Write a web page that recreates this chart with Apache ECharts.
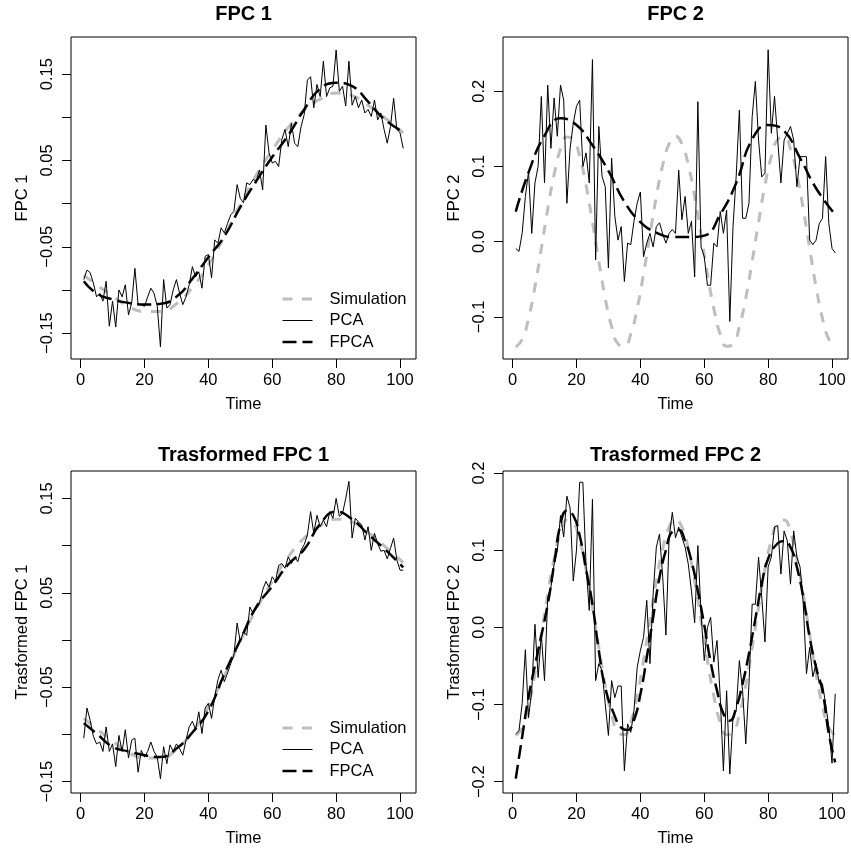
<!DOCTYPE html>
<html><head><meta charset="utf-8">
<script src="https://cdn.jsdelivr.net/npm/echarts@6/dist/echarts.min.js"></script>
<style>html,body{margin:0;padding:0;background:#fff}#c{width:851px;height:852px}</style>
</head><body><div id="c"></div>
<script>
// ---------------- data ----------------
const time = Array.from({length: 101}, (_, i) => i + 1);

const titles = ['FPC 1', 'FPC 2', 'Trasformed FPC 1', 'Trasformed FPC 2'];
const yNames = ['FPC 1', 'FPC 2', 'Trasformed FPC 1', 'Trasformed FPC 2'];
const xName = 'Time';
const xTicks = [0, 20, 40, 60, 80, 100];
const yTicks1 = [-0.15, -0.10, -0.05, 0.00, 0.05, 0.10, 0.15];
const yLabels1 = [-0.15, -0.05, 0.05, 0.15];
const yTicks2 = [-0.1, 0.0, 0.1, 0.2];
const yTicks3 = [-0.15, -0.10, -0.05, 0.00, 0.05, 0.10, 0.15];
const yLabels3 = [-0.15, -0.05, 0.05, 0.15];
const yTicks4 = [-0.2, -0.1, 0.0, 0.1, 0.2];
const legendNames = ['Simulation', 'PCA', 'FPCA'];

// Simulation curves (same for raw and transformed panels)
const simT1 = [1,5,10,15,20,25,30,35,40,45,50,55,60,65,70,75,80,85,90,95,101];
const sim1 = [-0.083,-0.094,-0.107,-0.119,-0.125,-0.125,-0.116,-0.097,-0.071,-0.038,-0.001,0.033,0.062,0.088,0.108,0.121,0.128,0.125,0.114,0.100,0.082];
const simT2 = [1,3,5,7,9,11,13,15,17,19,21,23,25,27,29,31,33,35,37,39,41,43,45,47,49,51,53,55,57,59,61,63,65,67,69,71,73,75,77,79,81,83,85,87,89,91,93,95,97,99,101];
const sim2 = [-0.140,-0.130,-0.102,-0.060,-0.009,0.043,0.089,0.123,0.139,0.136,0.113,0.075,0.026,-0.026,-0.075,-0.113,-0.136,-0.139,-0.123,-0.089,-0.043,0.009,0.060,0.102,0.130,0.140,0.130,0.102,0.060,0.009,-0.043,-0.089,-0.123,-0.139,-0.136,-0.113,-0.075,-0.026,0.026,0.075,0.113,0.136,0.139,0.123,0.089,0.043,-0.009,-0.060,-0.102,-0.130,-0.140];

// PCA (noisy) curves, one value per time point
const pca1 = [-0.088,-0.077,-0.080,-0.092,-0.108,-0.104,-0.113,-0.090,-0.142,-0.113,
  -0.143,-0.100,-0.108,-0.094,-0.129,-0.115,-0.075,-0.117,-0.117,-0.119,
  -0.108,-0.098,-0.104,-0.119,-0.166,-0.088,-0.121,-0.117,-0.100,-0.088,
  -0.104,-0.117,-0.108,-0.094,-0.073,-0.085,-0.079,-0.098,-0.061,-0.059,
  -0.086,-0.042,-0.046,-0.028,-0.034,-0.023,-0.013,-0.009,0.022,0.006,
  0.001,0.024,0.022,0.028,0.026,0.039,0.016,0.091,0.059,0.047,
  0.049,0.043,0.074,0.086,0.066,0.093,0.070,0.066,0.089,0.103,
  0.143,0.147,0.111,0.138,0.124,0.165,0.124,0.134,0.136,0.178,
  0.130,0.136,0.113,0.165,0.114,0.124,0.111,0.120,0.105,0.109,
  0.101,0.120,0.097,0.105,0.086,0.070,0.089,0.122,0.086,0.082,0.064];
const pca2 = [-0.009,-0.013,0.011,0.060,0.093,0.011,0.078,0.100,0.193,0.078,
  0.208,0.124,0.191,0.140,0.208,0.188,0.051,0.124,0.157,0.180,
  0.188,0.100,0.118,0.078,0.242,-0.024,0.153,0.087,0.073,-0.035,
  0.111,0.034,0.002,0.020,-0.053,-0.002,-0.004,0.027,0.051,0.066,
  -0.020,-0.002,0.011,-0.007,0.020,0.025,0.010,-0.002,0.011,0.016,
  0.011,0.095,0.029,0.060,0.011,0.027,-0.047,0.186,-0.007,-0.020,
  -0.058,-0.058,-0.002,-0.007,0.040,0.011,0.042,-0.106,0.020,0.087,
  0.175,0.031,0.031,0.051,0.166,0.213,0.135,0.086,0.091,0.255,
  0.144,0.193,0.135,0.078,0.135,0.144,0.153,0.135,0.073,0.113,
  0.113,0.113,0.002,-0.004,0.002,0.024,0.031,0.113,0.024,-0.009,-0.015];
const pca3 = [-0.104,-0.072,-0.085,-0.102,-0.110,-0.108,-0.118,-0.092,-0.118,-0.110,
  -0.134,-0.101,-0.118,-0.095,-0.125,-0.106,-0.104,-0.140,-0.117,-0.124,
  -0.118,-0.108,-0.118,-0.124,-0.147,-0.113,-0.131,-0.111,-0.118,-0.110,
  -0.115,-0.122,-0.106,-0.092,-0.086,-0.095,-0.076,-0.099,-0.072,-0.067,
  -0.083,-0.060,-0.042,-0.032,-0.044,-0.035,-0.025,-0.016,0.018,-0.002,
  0.009,0.005,0.035,0.028,0.033,0.039,0.053,0.062,0.056,0.067,
  0.062,0.079,0.081,0.076,0.088,0.081,0.088,0.083,0.095,0.101,
  0.111,0.136,0.113,0.132,0.120,0.127,0.120,0.136,0.129,0.150,
  0.131,0.134,0.150,0.168,0.108,0.129,0.125,0.122,0.106,0.120,
  0.095,0.113,0.102,0.094,0.095,0.086,0.097,0.108,0.085,0.074,0.074];
const pca4 = [-0.138,-0.134,-0.099,-0.029,-0.117,-0.082,0.004,-0.065,-0.009,-0.069,
  0.039,0.052,0.082,0.099,0.145,0.117,0.170,0.155,0.060,0.100,
  0.188,0.188,0.080,0.022,0.166,-0.069,-0.047,-0.056,-0.099,-0.140,
  -0.069,-0.091,-0.076,-0.076,-0.186,-0.125,-0.136,-0.108,-0.052,-0.030,
  -0.013,0.035,-0.047,0.043,0.104,0.121,0.065,-0.010,0.116,0.149,
  0.116,0.130,0.117,0.104,0.082,0.047,0.006,0.106,0.017,-0.043,
  0.000,0.013,-0.045,-0.017,-0.090,-0.186,-0.082,-0.190,-0.117,-0.108,
  -0.043,-0.082,-0.151,-0.073,0.030,0.030,0.091,0.039,-0.019,0.078,
  0.091,0.130,0.132,0.069,0.125,0.112,0.056,0.125,0.091,0.078,
  0.030,-0.060,-0.026,-0.064,-0.047,-0.073,-0.073,-0.099,-0.129,-0.176,-0.086];

// FPCA (smooth) curves
const fpcaT1 = [1,5,10,15,20,25,30,35,40,45,50,55,60,65,70,75,80,85,90,95,101];
const fpca1 = [-0.090,-0.104,-0.111,-0.115,-0.117,-0.116,-0.108,-0.087,-0.062,-0.038,-0.004,0.026,0.054,0.079,0.109,0.133,0.140,0.136,0.118,0.098,0.083];
const fpcaT2 = [1,5,10,15,20,25,30,35,40,45,50,55,60,65,70,75,80,85,90,95,101];
const fpca2 = [0.040,0.092,0.141,0.164,0.155,0.128,0.094,0.053,0.026,0.012,0.006,0.006,0.008,0.036,0.078,0.136,0.155,0.147,0.111,0.071,0.036];
const fpcaT3 = [1,5,10,15,20,25,30,35,40,45,50,55,60,65,70,75,80,85,90,95,101];
const fpca3 = [-0.088,-0.099,-0.113,-0.118,-0.122,-0.124,-0.115,-0.098,-0.075,-0.036,0.000,0.035,0.057,0.080,0.096,0.123,0.136,0.128,0.112,0.097,0.077];
const fpcaT4 = [1,3,5,8,11,13,15,17,19,21,23,25,27,29,32,34,36,38,40,42,44,46,48,50,52,54,56,58,60,62,64,66,68,70,72,74,76,78,80,83,85,87,89,91,93,95,97,99,101];
const fpca4 = [-0.196,-0.142,-0.090,-0.030,0.030,0.082,0.134,0.151,0.145,0.119,0.075,0.030,-0.030,-0.078,-0.115,-0.130,-0.133,-0.120,-0.087,-0.039,0.013,0.065,0.100,0.124,0.126,0.112,0.086,0.047,0.003,-0.045,-0.082,-0.112,-0.121,-0.104,-0.073,-0.034,0.011,0.056,0.089,0.109,0.112,0.104,0.078,0.039,-0.013,-0.052,-0.082,-0.138,-0.175];

// ---------------- layout / style ----------------
const FONT = '"Liberation Sans", Arial, Helvetica, sans-serif';
const boxes = [
  {left: 71, top: 37, titleY: 14}, {left: 503, top: 37, titleY: 14},
  {left: 71, top: 471, titleY: 455}, {left: 503, top: 471, titleY: 455}
];
const BW = 345, BH = 322;
const yRanges = [[-0.180, 0.193], [-0.156, 0.272], [-0.162, 0.179], [-0.2146, 0.2026]];
const yTickSets = [yTicks1, yTicks2, yTicks3, yTicks4];
const yLabelSets = [yLabels1, yTicks2, yLabels3, yTicks4];
const yDigits = [2, 1, 2, 1];
const panels = [
  {sim: [simT1, sim1], pca: pca1, fpca: [fpcaT1, fpca1]},
  {sim: [simT2, sim2], pca: pca2, fpca: [fpcaT2, fpca2]},
  {sim: [simT1, sim1], pca: pca3, fpca: [fpcaT3, fpca3]},
  {sim: [simT2, sim2], pca: pca4, fpca: [fpcaT4, fpca4]}
];
const SIM_STYLE = {color: '#BEBEBE', width: 3, type: [10, 9.5]};
const PCA_STYLE = {color: '#000', width: 1, type: 'solid'};
const FPCA_STYLE = {color: '#000', width: 2.5, type: [14, 6]};

const zip = (a, b) => a.map((v, i) => [v, b[i]]);
const fmt = d => v => (v < -1e-9 ? '\u2212' : '') + Math.abs(v).toFixed(d);

const grid = [], xAxis = [], yAxis = [], series = [], graphic = [];
boxes.forEach((b, i) => {
  grid.push({left: b.left, top: b.top, width: BW, height: BH, show: true,
    borderColor: '#000', borderWidth: 1, backgroundColor: 'transparent', containLabel: false});
  xAxis.push({gridIndex: i, type: 'value', min: -3, max: 105,
    axisLine: {show: false, onZero: false}, splitLine: {show: false},
    axisTick: {show: true, length: 9, customValues: xTicks, lineStyle: {color: '#000', width: 1}},
    axisLabel: {customValues: xTicks, margin: 13, color: '#000', fontSize: 16.5, fontFamily: FONT},
    name: xName, nameLocation: 'middle', nameGap: 37,
    nameTextStyle: {color: '#000', fontSize: 16.5, fontFamily: FONT}});
  yAxis.push({gridIndex: i, type: 'value', min: yRanges[i][0], max: yRanges[i][1],
    axisLine: {show: false, onZero: false}, splitLine: {show: false},
    axisTick: {show: true, length: 9, customValues: yTickSets[i], lineStyle: {color: '#000', width: 1}},
    axisLabel: {customValues: yLabelSets[i], rotate: 90, margin: 15, color: '#000', fontSize: 16.5,
      fontFamily: FONT, formatter: fmt(yDigits[i])},
    name: yNames[i], nameLocation: 'middle', nameRotate: 90, nameGap: 40,
    nameTextStyle: {color: '#000', fontSize: 16.5, fontFamily: FONT}});
  const p = panels[i];
  series.push({type: 'line', name: 'Simulation', xAxisIndex: i, yAxisIndex: i,
    data: zip(p.sim[0], p.sim[1]), symbol: 'none', smooth: true, silent: true,
    lineStyle: SIM_STYLE, itemStyle: {color: '#BEBEBE'}});
  series.push({type: 'line', name: 'PCA', xAxisIndex: i, yAxisIndex: i,
    data: zip(time, p.pca), symbol: 'none', silent: true,
    lineStyle: PCA_STYLE, itemStyle: {color: '#000'}});
  series.push({type: 'line', name: 'FPCA', xAxisIndex: i, yAxisIndex: i,
    data: zip(p.fpca[0], p.fpca[1]), symbol: 'none', smooth: true, silent: true,
    lineStyle: FPCA_STYLE, itemStyle: {color: '#000'}});
  graphic.push({type: 'text', x: b.left + BW / 2, y: b.titleY,
    style: {text: titles[i], fill: '#000', font: 'bold 20px ' + FONT,
      textAlign: 'center', textVerticalAlign: 'middle'}});
});

const legendStyles = [SIM_STYLE, PCA_STYLE, FPCA_STYLE];
const legendData = legendNames.map((n, k) => ({name: n,
  lineStyle: legendStyles[k], itemStyle: {opacity: 0, color: 'transparent', borderWidth: 0}}));
const legendCommon = {orient: 'vertical', itemWidth: 30, itemHeight: 14, itemGap: 4.5,
  data: legendData, selectedMode: false,
  textStyle: {color: '#000', fontSize: 16.5, fontFamily: FONT, padding: [0, 0, 0, 12]}};
const legend = [
  Object.assign({left: 276, top: 285.5}, legendCommon),
  Object.assign({left: 276, top: 714.5}, legendCommon)
];

const chart = echarts.init(document.getElementById('c'), null, {renderer: 'canvas'});
chart.setOption({animation: false, backgroundColor: '#fff', grid, xAxis, yAxis, series, legend, graphic});
</script>
</body></html>
